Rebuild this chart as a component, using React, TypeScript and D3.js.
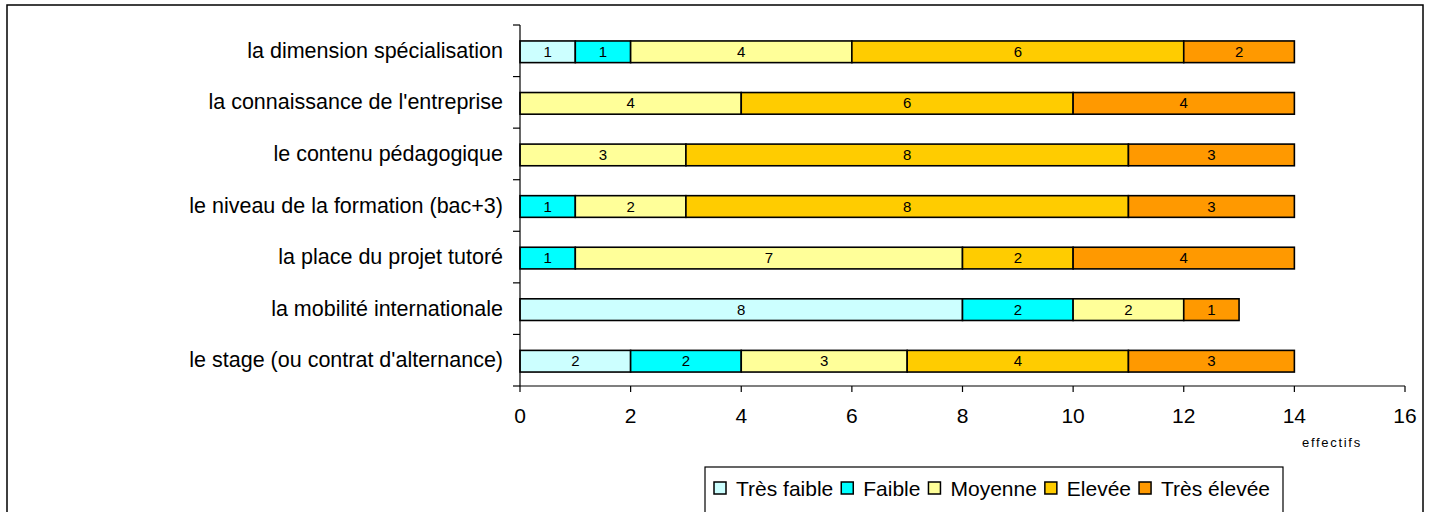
import React from "react";
import * as d3 from "d3";

const categories = [
  "la dimension spécialisation",
  "la connaissance de l'entreprise",
  "le contenu pédagogique",
  "le niveau de la formation (bac+3)",
  "la place du projet tutoré",
  "la mobilité internationale",
  "le stage (ou contrat d'alternance)",
];
const seriesNames = ["Très faible", "Faible", "Moyenne", "Elevée", "Très élevée"];
const seriesColors = ["#CCFFFF", "#00FFFF", "#FFFF99", "#FFCC00", "#FF9900"];
const tresFaible = [1, 0, 0, 0, 0, 8, 2];
const faible = [1, 0, 0, 1, 1, 2, 2];
const moyenne = [4, 4, 3, 2, 7, 2, 3];
const elevee = [6, 6, 8, 8, 2, 0, 4];
const tresElevee = [2, 4, 3, 3, 4, 1, 3];
const xTicks = [0, 2, 4, 6, 8, 10, 12, 14, 16];
const axisTitle = "effectifs";

const FONT = "Arial, 'Liberation Sans', sans-serif";

function textWidth(t: string, size: number) {
  const c = document.createElement("canvas").getContext("2d")!;
  c.font = `${size}px Arial, 'Liberation Sans', sans-serif`;
  return c.measureText(t).width;
}

export default function App() {
  const W = 1430, H = 512;
  const left = 520, right = 1405, top = 25, bottom = 386;
  const x = d3.scaleLinear().domain([0, 16]).range([left, right]);
  const y = d3.scaleBand().domain(categories).range([top, bottom]).paddingInner(0.58).paddingOuter(0.29);
  const yOuter = d3.scaleBand().domain(categories).range([top, bottom]);

  const rows = categories.map((c, i) => ({
    cat: c,
    values: [tresFaible[i], faible[i], moyenne[i], elevee[i], tresElevee[i]],
  }));

  // legend layout
  const legFont = 21;
  const sw = 12;
  let cursor = 0;
  const items = seriesNames.map((n, i) => {
    const it = { n, i, sx: cursor, tx: cursor + sw + 10 };
    cursor = it.tx + textWidth(n, legFont) + 8;
    return it;
  });
  const legInner = cursor - 8;
  const legBoxW = legInner + 9 + 13;
  const legCx = 994;
  const legX = legCx - legBoxW / 2;
  const legY = 467;

  return (
    <svg width={W} height={H} style={{ position: "absolute", left: 0, top: 0, background: "#fff" }} fontFamily={FONT}>
      <rect x={7} y={5} width={1416} height={520} fill="#fff" stroke="#000" strokeWidth={1.5} />
      {/* bars */}
      {rows.map((r) => {
        let acc = 0;
        return (
          <g key={r.cat}>
            {r.values.map((v, si) => {
              const x0 = acc;
              acc += v;
              if (v === 0) return null;
              const bx = x(x0), bw = x(x0 + v) - x(x0);
              const by = y(r.cat)! + 1, bh = y.bandwidth();
              return (
                <g key={si}>
                  <rect x={bx} y={by} width={bw} height={bh} fill={seriesColors[si]} stroke="#000" strokeWidth={1.6} />
                  <text x={bx + bw / 2} y={by + bh / 2 + 5} textAnchor="middle" fontSize={15} fill="#000">{v}</text>
                </g>
              );
            })}
          </g>
        );
      })}
      {/* y axis */}
      <line x1={left} x2={left} y1={top} y2={bottom} stroke="#000" strokeWidth={1.2} />
      {categories.map((c) => (
        <line key={"t" + c} x1={left - 7} x2={left} y1={yOuter(c)!} y2={yOuter(c)!} stroke="#000" strokeWidth={1.2} />
      ))}
      <line x1={left - 7} x2={left} y1={bottom} y2={bottom} stroke="#000" strokeWidth={1.2} />
      {categories.map((c) => (
        <text key={"l" + c} x={503} y={yOuter(c)! + yOuter.bandwidth() / 2 + 7} textAnchor="end" fontSize={21.5} fill="#000">{c}</text>
      ))}
      {/* x axis */}
      <line x1={left} x2={right} y1={bottom} y2={bottom} stroke="#000" strokeWidth={1.2} />
      {xTicks.map((t) => (
        <g key={"x" + t}>
          <line x1={x(t)} x2={x(t)} y1={bottom} y2={bottom + 6} stroke="#000" strokeWidth={1.2} />
          <text x={x(t)} y={bottom + 37} textAnchor="middle" fontSize={21} fill="#000">{t}</text>
        </g>
      ))}
      <text x={1302} y={447} fontSize={13} letterSpacing={1.7} fill="#000">{axisTitle}</text>
      {/* legend */}
      <rect x={legX} y={legY} width={legBoxW} height={60} fill="#fff" stroke="#000" strokeWidth={1.2} />
      {items.map((it) => (
        <g key={it.n}>
          <rect x={legX + 9 + it.sx} y={482} width={sw} height={12} fill={seriesColors[it.i]} stroke="#000" strokeWidth={1.5} />
          <text x={legX + 9 + it.tx} y={496} fontSize={legFont} fill="#000">{it.n}</text>
        </g>
      ))}
    </svg>
  );
}
